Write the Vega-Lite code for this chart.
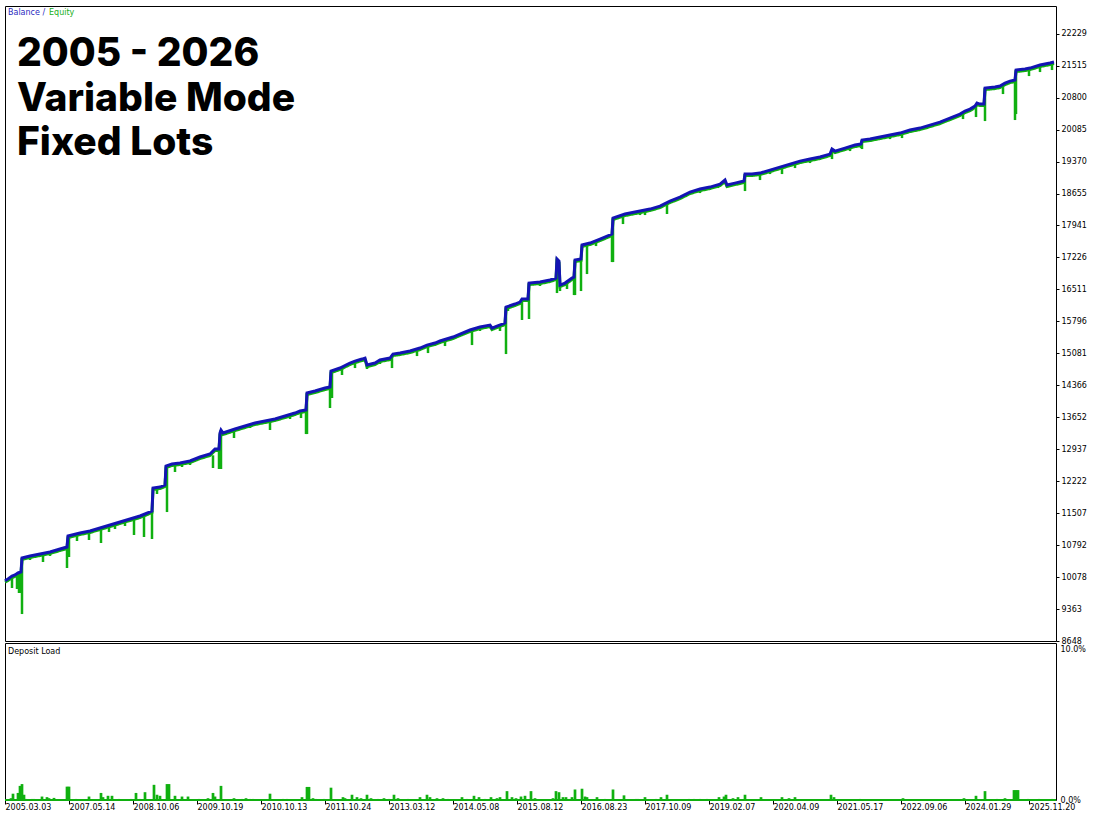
{
  "$schema": "https://vega.github.io/schema/vega-lite/v6.json",
  "background": "white",
  "padding": {"left": -2, "top": 5, "right": 0, "bottom": 0},
  "bounds": "flush",
  "datasets": {
    "bal": [
      {"n":0,"b":10000},{"n":3,"b":10034},{"n":7,"b":10101},{"n":10,"b":10124},{"n":13,"b":10169},{"n":16,"b":10191},{"n":17,"b":10504},{"n":25,"b":10549},{"n":35,"b":10593},{"n":45,"b":10638},{"n":55,"b":10705},{"n":62,"b":10750},{"n":63,"b":10996},{"n":75,"b":11063},{"n":85,"b":11108},{"n":95,"b":11175},{"n":105,"b":11242},{"n":115,"b":11309},{"n":125,"b":11376},{"n":135,"b":11443},{"n":140,"b":11488},{"n":147,"b":11555},{"n":148,"b":12069},{"n":155,"b":12091},{"n":160,"b":12136},{"n":161,"b":12561},{"n":167,"b":12606},{"n":175,"b":12628},{"n":185,"b":12673},{"n":195,"b":12762},{"n":205,"b":12829},{"n":210,"b":12941},{"n":214,"b":12941},{"n":215,"b":13299},{"n":216,"b":13366},{"n":218,"b":13299},{"n":230,"b":13388},{"n":240,"b":13455},{"n":250,"b":13522},{"n":260,"b":13567},{"n":270,"b":13612},{"n":280,"b":13679},{"n":290,"b":13746},{"n":295,"b":13790},{"n":301,"b":13813},{"n":302,"b":14193},{"n":310,"b":14238},{"n":320,"b":14305},{"n":325,"b":14327},{"n":326,"b":14685},{"n":335,"b":14752},{"n":345,"b":14864},{"n":350,"b":14908},{"n":357,"b":14953},{"n":360,"b":14975},{"n":362,"b":14819},{"n":370,"b":14864},{"n":375,"b":14931},{"n":385,"b":14975},{"n":388,"b":15065},{"n":395,"b":15087},{"n":405,"b":15132},{"n":415,"b":15199},{"n":422,"b":15266},{"n":430,"b":15311},{"n":435,"b":15356},{"n":448,"b":15445},{"n":455,"b":15512},{"n":465,"b":15602},{"n":475,"b":15669},{"n":485,"b":15713},{"n":487,"b":15646},{"n":492,"b":15691},{"n":500,"b":15758},{"n":501,"b":16116},{"n":510,"b":16183},{"n":515,"b":16228},{"n":517,"b":16295},{"n":523,"b":16295},{"n":524,"b":16652},{"n":535,"b":16675},{"n":545,"b":16720},{"n":551,"b":16764},{"n":552,"b":17189},{"n":554,"b":17144},{"n":555,"b":16608},{"n":560,"b":16652},{"n":567,"b":16764},{"n":569,"b":16787},{"n":570,"b":17167},{"n":576,"b":17189},{"n":577,"b":17502},{"n":585,"b":17547},{"n":595,"b":17636},{"n":607,"b":17748},{"n":608,"b":18106},{"n":620,"b":18195},{"n":635,"b":18262},{"n":645,"b":18307},{"n":655,"b":18374},{"n":665,"b":18486},{"n":675,"b":18575},{"n":685,"b":18687},{"n":695,"b":18754},{"n":705,"b":18799},{"n":715,"b":18866},{"n":720,"b":18956},{"n":722,"b":18844},{"n":730,"b":18888},{"n":739,"b":18933},{"n":740,"b":19090},{"n":747,"b":19090},{"n":755,"b":19112},{"n":765,"b":19179},{"n":775,"b":19246},{"n":785,"b":19313},{"n":795,"b":19380},{"n":805,"b":19425},{"n":815,"b":19470},{"n":825,"b":19537},{"n":827,"b":19649},{"n":830,"b":19604},{"n":840,"b":19671},{"n":850,"b":19738},{"n":856,"b":19761},{"n":857,"b":19850},{"n":865,"b":19872},{"n":875,"b":19917},{"n":885,"b":19962},{"n":895,"b":20006},{"n":905,"b":20074},{"n":915,"b":20118},{"n":925,"b":20185},{"n":935,"b":20252},{"n":945,"b":20342},{"n":955,"b":20431},{"n":960,"b":20498},{"n":965,"b":20543},{"n":970,"b":20610},{"n":972,"b":20677},{"n":975,"b":20655},{"n":979,"b":20655},{"n":980,"b":21013},{"n":990,"b":21035},{"n":995,"b":21057},{"n":1000,"b":21124},{"n":1005,"b":21169},{"n":1010,"b":21192},{"n":1011,"b":21415},{"n":1020,"b":21438},{"n":1025,"b":21460},{"n":1035,"b":21527},{"n":1045,"b":21572},{"n":1049,"b":21594}
    ],
    "dips": [
      {"n":7,"top":10101,"low":9833},{"n":12,"top":10150,"low":9811},{"n":14,"top":10169,"low":9721},{"n":16,"top":10191,"low":9721},{"n":17,"top":10504,"low":9251},{"n":25,"top":10549,"low":10459},{"n":38,"top":10606,"low":10414},{"n":45,"top":10638,"low":10549},{"n":62,"top":10750,"low":10280},{"n":64,"top":10996,"low":10526},{"n":72,"top":11040,"low":10884},{"n":84,"top":11104,"low":10906},{"n":96,"top":11180,"low":10839},{"n":104,"top":11236,"low":11085},{"n":110,"top":11275,"low":11152},{"n":120,"top":11342,"low":11219},{"n":129,"top":11403,"low":11018},{"n":139,"top":11434,"low":10973},{"n":147,"top":11555,"low":10929},{"n":152,"top":12080,"low":11935},{"n":162,"top":12561,"low":11532},{"n":170,"top":12610,"low":12427},{"n":177,"top":12640,"low":12539},{"n":185,"top":12673,"low":12584},{"n":208,"top":12800,"low":12516},{"n":214,"top":12941,"low":12494},{"n":216,"top":13366,"low":12494},{"n":229,"top":13385,"low":13187},{"n":245,"top":13490,"low":13411},{"n":265,"top":13590,"low":13366},{"n":285,"top":13712,"low":13612},{"n":296,"top":13795,"low":13634},{"n":301,"top":13813,"low":13276},{"n":302,"top":14193,"low":13276},{"n":325,"top":14327,"low":13858},{"n":327,"top":14685,"low":14082},{"n":337,"top":14775,"low":14596},{"n":350,"top":14908,"low":14752},{"n":362,"top":14819,"low":14730},{"n":375,"top":14931,"low":14842},{"n":387,"top":15040,"low":14752},{"n":412,"top":15180,"low":15020},{"n":423,"top":15270,"low":15087},{"n":440,"top":15390,"low":15244},{"n":467,"top":15620,"low":15266},{"n":475,"top":15669,"low":15580},{"n":495,"top":15720,"low":15580},{"n":501,"top":16116,"low":15065},{"n":503,"top":16140,"low":16027},{"n":517,"top":16295,"low":15826},{"n":524,"top":16652,"low":15848},{"n":535,"top":16675,"low":16586},{"n":552,"top":17189,"low":16429},{"n":555,"top":16608,"low":16474},{"n":562,"top":16680,"low":16519},{"n":569,"top":16787,"low":16384},{"n":570,"top":17167,"low":16384},{"n":576,"top":17189,"low":16474},{"n":582,"top":17520,"low":16854},{"n":591,"top":17590,"low":17480},{"n":607,"top":17748,"low":17122},{"n":608,"top":18106,"low":17122},{"n":618,"top":18190,"low":17972},{"n":635,"top":18262,"low":18173},{"n":640,"top":18280,"low":18173},{"n":662,"top":18460,"low":18196},{"n":695,"top":18754,"low":18665},{"n":713,"top":18850,"low":18777},{"n":722,"top":18844,"low":18799},{"n":740,"top":19090,"low":18710},{"n":755,"top":19112,"low":18956},{"n":765,"top":19179,"low":19090},{"n":777,"top":19250,"low":19090},{"n":790,"top":19350,"low":19224},{"n":805,"top":19425,"low":19336},{"n":827,"top":19649,"low":19425},{"n":845,"top":19700,"low":19604},{"n":856,"top":19761,"low":19671},{"n":857,"top":19850,"low":19649},{"n":885,"top":19962,"low":19872},{"n":897,"top":20020,"low":19895},{"n":922,"top":20165,"low":20096},{"n":958,"top":20460,"low":20320},{"n":971,"top":20640,"low":20365},{"n":980,"top":21013,"low":20275},{"n":998,"top":21100,"low":20879},{"n":1010,"top":21192,"low":20298},{"n":1011,"top":21415,"low":20432},{"n":1024,"top":21455,"low":21281},{"n":1035,"top":21527,"low":21371},{"n":1047,"top":21580,"low":21416}
    ],
    "load": [
      {"n":6,"pct":0.12},{"n":8,"pct":0.42},{"n":13,"pct":0.47},{"n":15,"pct":0.94},{"n":17,"pct":1.06},{"n":19,"pct":0.35},{"n":21,"pct":0.07},{"n":27,"pct":0.07},{"n":29,"pct":0.07},{"n":37,"pct":0.23},{"n":42,"pct":0.19},{"n":44,"pct":0.12},{"n":49,"pct":0.14},{"n":62,"pct":0.89},{"n":64,"pct":0.89},{"n":71,"pct":0.07},{"n":84,"pct":0.23},{"n":96,"pct":0.47},{"n":98,"pct":0.19},{"n":103,"pct":0.28},{"n":107,"pct":0.28},{"n":114,"pct":0.07},{"n":126,"pct":0.07},{"n":131,"pct":0.47},{"n":135,"pct":0.07},{"n":140,"pct":0.52},{"n":149,"pct":1.01},{"n":152,"pct":0.35},{"n":155,"pct":0.28},{"n":162,"pct":1.06},{"n":164,"pct":1.06},{"n":170,"pct":0.28},{"n":177,"pct":0.23},{"n":183,"pct":0.23},{"n":194,"pct":0.07},{"n":203,"pct":0.12},{"n":208,"pct":0.47},{"n":210,"pct":0.23},{"n":216,"pct":0.94},{"n":229,"pct":0.12},{"n":237,"pct":0.07},{"n":241,"pct":0.12},{"n":245,"pct":0.07},{"n":248,"pct":0.07},{"n":265,"pct":0.42},{"n":278,"pct":0.07},{"n":282,"pct":0.07},{"n":297,"pct":0.19},{"n":302,"pct":0.87},{"n":304,"pct":0.87},{"n":308,"pct":0.12},{"n":311,"pct":0.07},{"n":319,"pct":0.07},{"n":326,"pct":0.82},{"n":338,"pct":0.19},{"n":340,"pct":0.12},{"n":347,"pct":0.35},{"n":352,"pct":0.19},{"n":356,"pct":0.12},{"n":362,"pct":0.35},{"n":366,"pct":0.12},{"n":373,"pct":0.07},{"n":379,"pct":0.12},{"n":384,"pct":0.07},{"n":389,"pct":0.35},{"n":393,"pct":0.12},{"n":403,"pct":0.07},{"n":415,"pct":0.19},{"n":422,"pct":0.35},{"n":425,"pct":0.19},{"n":432,"pct":0.12},{"n":438,"pct":0.12},{"n":443,"pct":0.07},{"n":457,"pct":0.19},{"n":462,"pct":0.07},{"n":469,"pct":0.28},{"n":474,"pct":0.19},{"n":480,"pct":0.07},{"n":486,"pct":0.19},{"n":492,"pct":0.12},{"n":495,"pct":0.19},{"n":502,"pct":0.59},{"n":507,"pct":0.19},{"n":511,"pct":0.12},{"n":516,"pct":0.23},{"n":520,"pct":0.28},{"n":526,"pct":0.59},{"n":530,"pct":0.12},{"n":548,"pct":0.12},{"n":551,"pct":0.59},{"n":554,"pct":0.52},{"n":558,"pct":0.19},{"n":561,"pct":0.19},{"n":564,"pct":0.07},{"n":567,"pct":0.19},{"n":570,"pct":0.7},{"n":577,"pct":0.75},{"n":580,"pct":0.23},{"n":582,"pct":0.19},{"n":592,"pct":0.19},{"n":600,"pct":0.07},{"n":608,"pct":0.7},{"n":619,"pct":0.31},{"n":631,"pct":0.07},{"n":633,"pct":0.07},{"n":640,"pct":0.19},{"n":651,"pct":0.07},{"n":656,"pct":0.19},{"n":662,"pct":0.35},{"n":684,"pct":0.07},{"n":689,"pct":0.07},{"n":695,"pct":0.07},{"n":702,"pct":0.07},{"n":714,"pct":0.19},{"n":719,"pct":0.23},{"n":721,"pct":0.35},{"n":728,"pct":0.12},{"n":733,"pct":0.19},{"n":740,"pct":0.35},{"n":756,"pct":0.19},{"n":777,"pct":0.19},{"n":784,"pct":0.12},{"n":790,"pct":0.19},{"n":826,"pct":0.35},{"n":829,"pct":0.19},{"n":855,"pct":0.07},{"n":898,"pct":0.12},{"n":959,"pct":0.12},{"n":971,"pct":0.28},{"n":980,"pct":0.59},{"n":992,"pct":0.07},{"n":1000,"pct":0.12},{"n":1009,"pct":0.66},{"n":1011,"pct":0.66},{"n":1013,"pct":0.66},{"n":1023,"pct":0.07},{"n":1034,"pct":0.07},{"n":1047,"pct":0.07}
    ]
  },
  "vconcat": [
    {
      "width": 1051,
      "height": 635,
      "title": {
        "text": ["2005 - 2026", "Variable Mode", "Fixed Lots"],
        "anchor": "start",
        "frame": "group",
        "font": "Inter",
        "fontSize": 39,
        "fontWeight": 800,
        "lineHeight": 44.5,
        "color": "#000000",
        "baseline": "top",
        "dx": 12,
        "offset": -157
      },
      "layer": [
        {
          "data": {"name": "dips"},
          "mark": {"type": "rule", "color": "#10b010", "strokeWidth": 2.5},
          "encoding": {
            "x": {"field": "n", "type": "quantitative", "scale": {"domain": [0, 1051], "nice": false, "zero": false}, "axis": null},
            "y": {"field": "top", "type": "quantitative", "scale": {"domain": [8648, 22848], "nice": false, "zero": false}},
            "y2": {"field": "low"}
          }
        },
        {
          "data": {"name": "bal"},
          "mark": {"type": "line", "strokeWidth": 3, "yOffset": 1.5, "color": "#10b010"},
          "encoding": {
            "x": {"field": "n", "type": "quantitative"},
            "y": {"field": "b", "type": "quantitative"},
            "strokeDash": {
              "datum": "Equity",
              "type": "nominal",
              "scale": {"domain": ["Equity"], "range": [[1, 0]]},
              "legend": {
                "orient": "none",
                "legendX": 36,
                "legendY": 3,
                "title": null,
                "symbolType": "circle",
                "symbolSize": 0,
                "symbolStrokeWidth": 0,
                "symbolOpacity": 0,
                "labelOffset": 0,
                "padding": 0,
                "labelColor": "#22b022"
              }
            }
          }
        },
        {
          "data": {"name": "bal"},
          "mark": {"type": "line", "strokeWidth": 3},
          "encoding": {
            "x": {"field": "n", "type": "quantitative"},
            "y": {
              "field": "b",
              "type": "quantitative",
              "axis": {
                "orient": "right",
                "title": null,
                "values": [8648, 9363, 10078, 10792, 11507, 12222, 12937, 13652, 14366, 15081, 15796, 16511, 17226, 17941, 18655, 19370, 20085, 20800, 21515, 22229],
                "tickCount": 40,
                "format": "d",
                "grid": false,
                "domain": false,
                "labelOverlap": false,
                "labelBound": false,
                "tickSize": 3,
                "labelPadding": 2
              }
            },
            "color": {
              "datum": "Balance",
              "type": "nominal",
              "scale": {"domain": ["Balance"], "range": ["#1414b4"]},
              "legend": {
                "orient": "none",
                "legendX": -5,
                "legendY": 3,
                "title": null,
                "symbolType": "circle",
                "symbolSize": 0,
                "symbolStrokeWidth": 0,
                "symbolOpacity": 0,
                "labelOffset": 0,
                "padding": 0,
                "labelColor": "#2a2ac0",
                "labelExpr": "datum.label + ' /'"
              }
            }
          }
        }
      ]
    },
    {
      "width": 1051,
      "height": 157,
      "title": {
        "text": "Deposit Load",
        "anchor": "start",
        "frame": "group",
        "font": "DejaVu Sans",
        "fontSize": 8,
        "fontWeight": "normal",
        "color": "#000000",
        "baseline": "top",
        "dx": 3,
        "offset": -12.5
      },
      "data": {"name": "load"},
      "layer": [
        {
          "mark": {"type": "rule", "color": "#10b010", "strokeWidth": 2},
          "encoding": {"y": {"datum": 0, "type": "quantitative"}}
        },
        {
          "mark": {"type": "rule", "color": "#10b010", "strokeWidth": 2.7},
          "encoding": {
            "x": {
              "field": "n",
              "type": "quantitative",
              "scale": {"domain": [0, 1051], "nice": false, "zero": false},
              "axis": {
                "title": null,
                "values": [0, 64, 128, 192, 256, 320, 384, 448, 512, 576, 640, 704, 768, 832, 896, 960, 1024],
                "tickCount": 40,
                "labelExpr": "['2005.03.03','2007.05.14','2008.10.06','2009.10.19','2010.10.13','2011.10.24','2013.03.12','2014.05.08','2015.08.12','2016.08.23','2017.10.09','2019.02.07','2020.04.09','2021.05.17','2022.09.06','2024.01.29','2025.11.20'][round(datum.value / 64)]",
                "labelAlign": "left",
                "labelOverlap": false,
                "labelBound": false,
                "labelFlush": false,
                "labelPadding": -1,
                "labelDx": 1,
                "tickSize": 4,
                "domain": false,
                "grid": false
              }
            },
            "y": {
              "field": "pct",
              "type": "quantitative",
              "scale": {"domain": [0, 10.45], "nice": false},
              "axis": {
                "orient": "right",
                "title": null,
                "values": [0, 10],
                "labelExpr": "format(datum.value, '.1f') + '%'",
                "ticks": false,
                "grid": false,
                "domain": false,
                "labelPadding": 4
              }
            },
            "y2": {"datum": 0}
          }
        }
      ]
    }
  ],
  "spacing": 2,
  "resolve": {"scale": {"x": "independent", "y": "independent", "color": "independent"}},
  "config": {
    "font": "DejaVu Sans",
    "view": {"stroke": "#000000", "strokeWidth": 1},
    "axis": {
      "labelFont": "DejaVu Sans",
      "labelFontSize": 8,
      "labelColor": "#000000",
      "tickColor": "#000000"
    },
    "legend": {"labelFont": "DejaVu Sans", "labelFontSize": 8}
  }
}
